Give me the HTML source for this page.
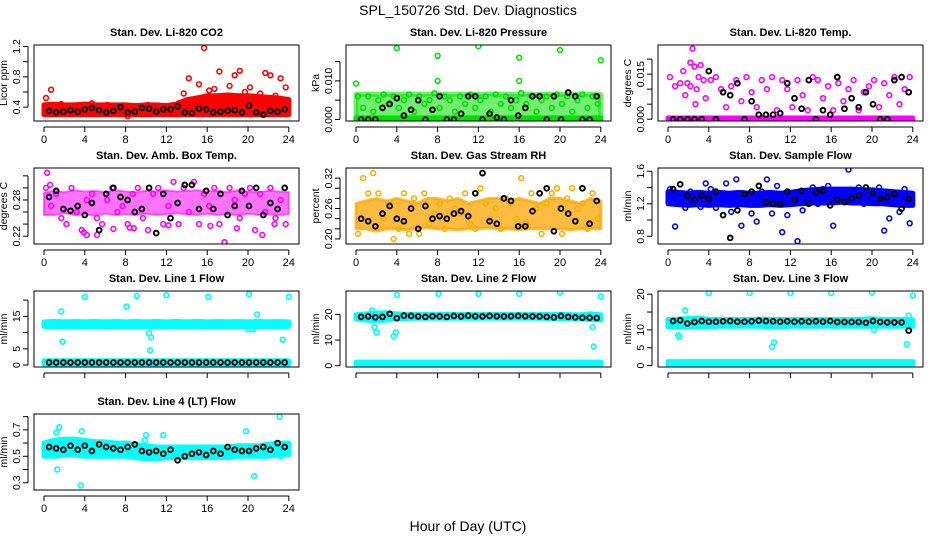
<!DOCTYPE html>
<html><head><meta charset="utf-8"><title>SPL_150726 Std. Dev. Diagnostics</title>
<style>
html,body{margin:0;padding:0;background:#fff;}
svg{display:block;font-family:"Liberation Sans",Arial,sans-serif;}
</style></head>
<body>
<svg id="chart" width="936" height="540" viewBox="0 0 936 540">
<text x="468" y="15" font-size="14" text-anchor="middle">SPL_150726  Std. Dev. Diagnostics</text>
<text x="468" y="531" font-size="14" text-anchor="middle">Hour of Day (UTC)</text>
</svg>
<script>
// ---- shared hour arrays ----
const bandHours = [0,1,2,3,4,5,6,7,8,9,10,11,12,13,14,15,16,17,18,19,20,21,22,23,24];
const hoursA = [0.2,0.7,1.2,1.7,2.2,2.7,3.2,3.7,4.2,4.7,5.2,5.7,6.2,6.7,7.2,7.7,8.2,8.7,9.2,9.7,10.2,10.7,11.2,11.7,12.2,12.7,13.2,13.7,14.2,14.7,15.2,15.7,16.2,16.7,17.2,17.7,18.2,18.7,19.2,19.7,20.2,20.7,21.2,21.7,22.2,22.7,23.2,23.7];
const hoursB = [0.5,1.2,1.9,2.6,3.3,4.0,4.7,5.4,6.1,6.8,7.5,8.2,8.9,9.6,10.3,11.0,11.7,12.4,13.1,13.8,14.5,15.2,15.9,16.6,17.3,18.0,18.7,19.4,20.1,20.8,21.5,22.2,22.9,23.6];
const xTicks = [0,4,8,12,16,20,24];
const xTickLabels = ["0","4","8","12","16","20","24"];

// ---- CO2 ----
const co2BandLo = [0.30,0.30,0.30,0.30,0.30,0.30,0.30,0.30,0.30,0.30,0.30,0.30,0.30,0.30,0.30,0.30,0.30,0.30,0.30,0.30,0.30,0.30,0.30,0.30,0.30];
const co2BandHi = [0.43,0.44,0.43,0.43,0.44,0.43,0.43,0.43,0.43,0.42,0.43,0.43,0.42,0.44,0.50,0.52,0.55,0.55,0.56,0.55,0.55,0.54,0.53,0.52,0.50];
const co2Pts = [0.52,0.63,0.38,0.44,0.40,0.36,0.42,0.39,0.37,0.45,0.41,0.38,0.43,0.36,0.40,0.42,0.28,0.39,0.41,0.37,0.43,0.40,0.38,0.41,0.36,0.40,0.45,0.58,0.78,0.48,0.70,1.18,0.62,0.64,0.87,0.55,0.68,0.82,0.88,0.60,0.66,0.50,0.58,0.85,0.82,0.55,0.78,0.66];
const co2Blk = [0.35,0.33,0.34,0.36,0.34,0.37,0.39,0.36,0.33,0.35,0.40,0.33,0.34,0.39,0.38,0.34,0.37,0.37,0.41,0.33,0.32,0.38,0.37,0.33,0.34,0.35,0.36,0.33,0.42,0.33,0.30,0.35,0.34,0.37];
const co2Ticks = [0.4,0.6,0.8,1.0,1.2];
const co2TickLabels = ["0.4","","0.8","","1.2"];

// ---- Pressure ----
const presBandLo = [0,0,0,0,0,0,0,0,0,0,0,0,0,0,0,0,0,0,0,0,0,0,0,0,0];
const presBandHi = [0.0065,0.0066,0.0065,0.0066,0.0065,0.0066,0.0065,0.0066,0.0066,0.0065,0.0066,0.0065,0.0065,0.0066,0.0065,0.0066,0.0065,0.0066,0.0065,0.0066,0.0065,0.0066,0.0065,0.0066,0.0065];
const presPts = [0.006,0.003,0.006,0.002,0.005,0.0065,0.004,0.006,0.003,0.005,0.0065,0.002,0.006,0.004,0.005,0.0068,0.003,0.006,0.005,0.002,0.006,0.004,0.0065,0.003,0.005,0.006,0.002,0.0065,0.004,0.006,0.003,0.005,0.0068,0.004,0.006,0.002,0.005,0.006,0.003,0.0065,0.004,0.006,0.002,0.005,0.0065,0.003,0.006,0.004];
const presOutH = [0,4,8,8,12,16,16,20,24];
const presOutV = [0.0093,0.0185,0.0165,0.0100,0.0190,0.0160,0.0100,0.0180,0.0153];
const presBlk = [0,0,0,0.003,0.004,0.0055,0.001,0.0025,0.005,0,0.0025,0.006,0,0,0.0015,0.006,0.006,0,0.0015,0.0005,0,0.005,0.001,0.003,0.006,0.006,0,0.006,0,0.007,0.006,0,0,0.006];
const presTicks = [0,0.005,0.010,0.015];
const presTickLabels = ["0.000","","0.010",""];

// ---- Li-820 Temp ----
const tempBandLo = [0,0,0,0,0,0,0,0,0,0,0,0,0,0,0,0,0,0,0,0,0,0,0,0,0];
const tempBandHi = [0.0004,0.0004,0.0004,0.0004,0.0004,0.0004,0.0004,0.0004,0.0004,0.0004,0.0004,0.0004,0.0004,0.0004,0.0004,0.0004,0.0004,0.0004,0.0004,0.0004,0.0004,0.0004,0.0004,0.0004,0.0004];
const tempPts = [0.014,0.011,0.012,0.008,0.011,0.005,0.018,0.007,0.013,0.014,0.010,0.004,0.011,0.013,0.006,0.014,0.009,0.004,0.013,0.010,0.014,0.003,0.013,0.010,0.004,0.013,0.008,0.003,0.014,0.013,0.007,0.011,0.003,0.012,0.006,0.010,0.013,0.003,0.009,0.011,0.013,0.004,0.012,0.008,0.014,0.005,0.010,0.014];
const tempOutH = [2.4,2.2,2.6,1.5,1.9,3.0,3.5,2.8];
const tempOutV = [0.0235,0.0188,0.0175,0.0160,0.0120,0.0140,0.0130,0.0100];
const tempBlk = [0,0,0,0,0,0.016,0,0.009,0.008,0.012,0,0.006,0.0015,0.0015,0.0015,0.002,0.012,0.007,0.0035,0.013,0,0.003,0.0015,0.014,0.0035,0.007,0.004,0.009,0.005,0,0,0.013,0.014,0.009];
const tempTicks = [0,0.005,0.010,0.015,0.020];
const tempTickLabels = ["0.000","","","0.015",""];

// ---- Amb Box Temp ----
const ambBandLo = [0.255,0.255,0.258,0.255,0.256,0.254,0.257,0.255,0.256,0.255,0.257,0.255,0.256,0.258,0.256,0.255,0.257,0.255,0.256,0.255,0.257,0.255,0.256,0.255,0.256];
const ambBandHi = [0.292,0.295,0.293,0.296,0.294,0.295,0.293,0.296,0.294,0.293,0.295,0.294,0.296,0.294,0.295,0.296,0.294,0.295,0.293,0.296,0.294,0.293,0.295,0.294,0.293];
const ambPts = [0.30,0.27,0.29,0.25,0.24,0.30,0.26,0.23,0.28,0.29,0.25,0.24,0.28,0.30,0.26,0.27,0.24,0.29,0.30,0.25,0.23,0.29,0.30,0.24,0.27,0.31,0.24,0.30,0.26,0.31,0.24,0.29,0.27,0.30,0.24,0.21,0.30,0.28,0.25,0.29,0.30,0.23,0.29,0.26,0.30,0.25,0.28,0.24];
const ambOutH = [0.3,0.6,3.9,4.2,5.2,6.8,8.4,8.8,12.2,16.3,18.9,21.4,22.6];
const ambOutV = [0.325,0.305,0.226,0.222,0.222,0.232,0.234,0.233,0.238,0.237,0.233,0.222,0.24];
const ambBlk = [0.285,0.295,0.265,0.262,0.27,0.255,0.275,0.23,0.29,0.30,0.285,0.28,0.26,0.265,0.30,0.225,0.29,0.25,0.275,0.305,0.305,0.265,0.295,0.265,0.29,0.255,0.27,0.295,0.27,0.30,0.255,0.275,0.265,0.30];
const ambTicks = [0.22,0.24,0.26,0.28,0.30,0.32];
const ambTickLabels = ["0.22","","","0.28","",""];

// ---- Gas Stream RH ----
const rhBandLo = [0.22,0.22,0.215,0.22,0.22,0.218,0.22,0.222,0.22,0.22,0.218,0.22,0.22,0.222,0.22,0.22,0.218,0.22,0.22,0.22,0.22,0.218,0.22,0.22,0.22];
const rhBandHi = [0.27,0.275,0.28,0.275,0.28,0.275,0.27,0.28,0.28,0.275,0.28,0.27,0.275,0.28,0.28,0.275,0.28,0.275,0.27,0.28,0.28,0.275,0.27,0.28,0.275];
const rhPts = [0.21,0.32,0.29,0.33,0.29,0.24,0.27,0.20,0.22,0.29,0.21,0.28,0.21,0.29,0.23,0.25,0.27,0.22,0.28,0.26,0.25,0.29,0.23,0.22,0.30,0.27,0.24,0.26,0.22,0.28,0.27,0.24,0.32,0.23,0.29,0.26,0.21,0.27,0.29,0.30,0.21,0.28,0.30,0.26,0.27,0.22,0.29,0.24];
const rhBlk = [0.24,0.235,0.225,0.25,0.265,0.24,0.235,0.26,0.22,0.265,0.24,0.245,0.24,0.25,0.255,0.245,0.29,0.33,0.235,0.23,0.28,0.275,0.225,0.225,0.255,0.29,0.30,0.215,0.26,0.25,0.235,0.30,0.23,0.275];
const rhTicks = [0.20,0.22,0.24,0.26,0.28,0.30,0.32];
const rhTickLabels = ["0.20","","","0.26","","","0.32"];

// ---- Sample Flow ----
const sfBandLo = [1.20,1.19,1.18,1.19,1.18,1.19,1.18,1.19,1.18,1.18,1.19,1.18,1.19,1.20,1.21,1.21,1.21,1.22,1.21,1.21,1.20,1.20,1.19,1.18,1.18];
const sfBandHi = [1.35,1.34,1.33,1.34,1.33,1.34,1.33,1.34,1.33,1.33,1.34,1.33,1.34,1.36,1.37,1.38,1.38,1.38,1.38,1.37,1.37,1.36,1.35,1.34,1.33];
const sfPts = [1.38,0.92,1.22,1.15,1.35,1.2,1.16,1.45,1.38,1.15,1.30,1.45,1.10,1.50,0.93,1.32,1.08,0.98,1.35,1.50,1.08,1.42,0.85,1.06,1.28,0.74,1.12,1.30,1.40,1.20,1.38,1.42,0.93,1.30,1.25,1.62,1.22,1.40,1.20,1.36,1.25,1.40,0.87,1.02,1.30,1.10,1.38,0.96];
const sfBlk = [1.38,1.44,1.3,1.25,1.3,1.26,1.35,1.06,0.78,1.12,1.32,1.35,1.42,1.22,1.20,1.20,1.35,1.25,1.36,1.20,1.34,1.36,1.18,1.25,1.22,1.27,1.30,1.40,1.33,1.26,1.28,1.32,1.14,1.26];
const sfTicks = [0.8,1.0,1.2,1.4,1.6];
const sfTickLabels = ["0.8","","1.2","","1.6"];

// ---- Line 1 Flow ----
const l1BandLo = [11.9,11.8,11.9,11.8,11.9,11.8,11.9,11.8,11.9,11.8,11.9,11.8,11.9,11.8,11.9,11.8,11.9,11.8,11.9,11.8,11.9,11.8,11.9,11.8,11.9];
const l1BandHi = [13.3,13.4,13.3,13.4,13.3,13.4,13.3,13.4,13.3,13.4,13.3,13.4,13.3,13.4,13.3,13.4,13.3,13.4,13.3,13.4,13.3,13.4,13.3,13.4,13.3];
const l1ZeroLo = [0.3,0.3,0.3,0.3,0.3,0.3,0.3,0.3,0.3,0.3,0.3,0.3,0.3,0.3,0.3,0.3,0.3,0.3,0.3,0.3,0.3,0.3,0.3,0.3,0.3];
const l1ZeroHi = [1.3,1.3,1.3,1.3,1.3,1.3,1.3,1.3,1.3,1.3,1.3,1.3,1.3,1.3,1.3,1.3,1.3,1.3,1.3,1.3,1.3,1.3,1.3,1.3,1.3];
const l1OutH = [1.7,1.8,4.0,8.1,9.1,10.3,10.4,10.5,12.0,16.1,20.1,20.0,20.5,20.9,23.4,24.0];
const l1OutV = [16.5,7.2,21.0,18.0,21.3,9.8,4.5,8.5,21.5,21.0,21.8,11.0,11.0,15.6,7.8,21.0];
const l1Blk = [0.8,0.8,0.8,0.8,0.8,0.8,0.8,0.8,0.8,0.8,0.8,0.8,0.8,0.8,0.8,0.8,0.8,0.8,0.8,0.8,0.8,0.8,0.8,0.8,0.8,0.8,0.8,0.8,0.8,0.8,0.8,0.8,0.8,0.8];
const l1Ticks = [0,5,10,15,20];
const l1TickLabels = ["0","5","","15",""];

// ---- Line 2 Flow ----
const l2BandLo = [18.2,17.8,17.5,17.8,18.3,18.4,18.5,18.5,18.5,18.5,18.5,18.5,18.5,18.5,18.5,18.5,18.5,18.5,18.5,18.4,18.4,18.3,18.2,18.0,17.8];
const l2BandHi = [19.8,20.2,20.5,20.6,20.2,20.0,20.0,20.0,20.0,20.0,20.0,20.0,20.0,20.0,20.0,20.0,20.0,20.0,20.0,20.0,20.0,19.9,19.8,20.2,19.8];
const l2ZeroLo = [0,0,0,0,0,0,0,0,0,0,0,0,0,0,0,0,0,0,0,0,0,0,0,0,0];
const l2ZeroHi = [1.4,1.4,1.4,1.4,1.4,1.4,1.4,1.4,1.4,1.4,1.4,1.4,1.4,1.4,1.4,1.4,1.4,1.4,1.4,1.4,1.4,1.4,1.4,1.4,1.4];
const l2OutH = [1.8,2.0,1.6,3.7,3.9,4.0,8.1,12.0,16.0,20.0,23.2,23.3,24.0];
const l2OutV = [15.0,13.0,21.5,11.5,13.0,27.5,28.0,28.0,28.0,28.5,15.0,7.5,27.0];
const l2Blk = [19.0,19.2,18.8,19.0,20.2,18.5,19.5,19.4,19.2,19.0,19.3,19.2,19.0,19.4,19.2,19.5,19.3,19.2,19.4,19.3,19.2,19.3,19.4,19.3,19.2,19.2,19.0,18.8,19.4,19.0,18.8,18.7,18.7,18.6];
const l2Ticks = [0,10,20];
const l2TickLabels = ["0","10","20"];

// ---- Line 3 Flow ----
const l3BandLo = [10.8,10.8,10.8,10.9,10.9,11.0,11.0,11.0,11.0,11.0,10.8,10.9,11.0,11.0,11.0,11.0,11.0,11.0,11.0,11.0,11.0,11.0,11.0,11.0,11.0];
const l3BandHi = [12.9,13.0,13.2,13.3,13.0,12.9,12.9,12.9,12.9,13.0,13.0,12.9,12.9,12.9,12.9,12.9,12.9,12.9,12.9,13.0,13.1,12.9,12.9,12.9,12.8];
const l3ZeroLo = [0.2,0.2,0.2,0.2,0.2,0.2,0.2,0.2,0.2,0.2,0.2,0.2,0.2,0.2,0.2,0.2,0.2,0.2,0.2,0.2,0.2,0.2,0.2,0.2,0.2];
const l3ZeroHi = [1.1,1.1,1.1,1.1,1.1,1.1,1.1,1.1,1.1,1.1,1.1,1.1,1.1,1.1,1.1,1.1,1.1,1.1,1.1,1.1,1.1,1.1,1.1,1.1,1.1];
const l3OutH = [1.0,1.1,1.7,4.0,8.0,10.2,10.4,12.0,16.0,20.0,20.2,23.4,23.6,24.0];
const l3OutV = [8.5,8.0,15.5,20.3,20.3,5.2,6.5,20.3,20.3,20.5,10.0,6.0,14.0,19.6];
const l3Blk = [12.5,12.7,11.8,12.2,12.5,12.3,12.3,12.4,12.5,12.3,12.3,12.4,12.6,12.5,12.4,12.3,12.4,12.3,12.4,12.3,12.4,12.3,12.5,12.2,12.2,12.2,12.2,12.0,12.5,12.2,12.1,12.1,12.1,9.8];
const l3Ticks = [0,5,10,15,20];
const l3TickLabels = ["0","5","10","","20"];

// ---- Line 4 Flow ----
const l4BandLo = [0.50,0.50,0.51,0.51,0.50,0.50,0.50,0.50,0.50,0.49,0.48,0.48,0.49,0.49,0.49,0.49,0.49,0.49,0.49,0.50,0.50,0.50,0.50,0.51,0.51];
const l4BandHi = [0.60,0.62,0.63,0.63,0.62,0.61,0.61,0.60,0.60,0.59,0.58,0.57,0.57,0.57,0.57,0.57,0.57,0.57,0.57,0.58,0.58,0.58,0.59,0.60,0.60];
const l4OutH = [1.2,1.3,1.5,3.6,3.7,10.0,11.7,19.8,20.6,23.1,23.2,9.9];
const l4OutV = [0.68,0.40,0.72,0.28,0.69,0.66,0.66,0.69,0.35,0.80,0.50,0.62];
const l4Blk = [0.57,0.56,0.55,0.58,0.55,0.58,0.54,0.59,0.57,0.56,0.55,0.57,0.59,0.54,0.53,0.54,0.52,0.55,0.47,0.50,0.52,0.53,0.51,0.54,0.52,0.57,0.55,0.54,0.54,0.56,0.57,0.55,0.60,0.57];
const l4Ticks = [0.3,0.4,0.5,0.6,0.7,0.8];
const l4TickLabels = ["0.3","","0.5","","0.7",""];

const NS = "http://www.w3.org/2000/svg";
const svg = document.getElementById("chart");
function mk(tag, attrs, parent){
  const e = document.createElementNS(NS, tag);
  for (const k in attrs) e.setAttribute(k, attrs[k]);
  (parent||svg).appendChild(e);
  return e;
}
const colLeft = [34, 346, 658];
const rowTop = [45, 168, 291, 414];
const boxW = 265, boxH = 76;

function panel(p){
  const L = colLeft[p.col], T = rowTop[p.row], B = T + boxH;
  const x = h => L + 10 + h * 10.2;
  const y = v => B - (v - p.ymin) / (p.ymax - p.ymin) * boxH;
  const g = mk("g", {});
  
  
  const t = mk("text", {x: L + boxW/2, y: T - 9, "font-size": 11, "font-weight": "bold", "text-anchor": "middle"}, g);
  t.textContent = p.title;
  
  
  const pg = mk("g", {"clip-path": "url(#clip" + p.name + ")"}, g);
  const cp = mk("clipPath", {id: "clip" + p.name}, g);
  mk("rect", {x: L, y: T, width: boxW, height: boxH}, cp);
  function band(lo, hi, nm, op, sw){
    let d = "";
    bandHours.forEach((h,i)=>{ d += (i?"L":"M") + x(h).toFixed(1) + "," + y(hi[i]).toFixed(1); });
    for (let i = bandHours.length-1; i >= 0; i--) d += "L" + x(bandHours[i]).toFixed(1) + "," + y(lo[i]).toFixed(1);
    const b = mk("path", {d: d + "Z", fill: p.color, "fill-opacity": op, stroke: p.color, "stroke-opacity": op, "stroke-width": sw, "stroke-linejoin": "round"}, pg);
    
    
  }
  if (p.zeroLo) band(p.zeroLo, p.zeroHi, p.name + '-zero-band', 1, 5);
  if (p.bandLo) band(p.bandLo, p.bandHi, p.name + '-band', p.bandOpacity || 1, p.bandStroke || 5);
  function pts(hs, vs, color, nm, sw){
    vs.forEach((v,i)=>{
      const c = mk("circle", {cx: x(hs[i]).toFixed(1), cy: y(v).toFixed(1), r: 2.4, fill: "none", stroke: color, "stroke-width": sw}, pg);
      
      
    });
  }
  if (p.pts) pts(hoursA, p.pts, p.ptColor || p.color, p.name + '-point', 1.6);
  if (p.outH) pts(p.outH, p.outV, p.ptColor || p.color, p.name + '-outlier', 1.6);
  pts(hoursB, p.blk, "#000", p.name + '-black-point', 1.9);
  const box = mk("rect", {x: L, y: T, width: boxW, height: boxH, fill: "none", stroke: "#000", "stroke-width": 1}, g);
  
  
  mk("line", {x1: x(xTicks[0]), x2: x(xTicks[xTicks.length-1]), y1: B + 6, y2: B + 6, stroke: "#000"}, g);
  xTicks.forEach((h,i)=>{
    mk("line", {x1: x(h), x2: x(h), y1: B + 6, y2: B + 11, stroke: "#000"}, g);
    if (p.xlabels){
      const tl = mk("text", {x: x(h), y: B + 22, "font-size": 11, "text-anchor": "middle"}, g);
      tl.textContent = xTickLabels[i];
      
      
    }
  });
  mk("line", {x1: L - 6, x2: L - 6, y1: y(p.ticks[0]), y2: y(p.ticks[p.ticks.length-1]), stroke: "#000"}, g);
  p.ticks.forEach((v,i)=>{
    mk("line", {x1: L - 11, x2: L - 6, y1: y(v), y2: y(v), stroke: "#000"}, g);
    if (p.tickLabels[i]){
      const tl = mk("text", {x: 0, y: 0, "font-size": 10.5, "text-anchor": "middle", transform: "translate(" + (L - 14) + "," + y(v) + ") rotate(-90)"}, g);
      tl.textContent = p.tickLabels[i];
      
      
    }
  });
  const yl = mk("text", {x: 0, y: 0, "font-size": 10.5, "text-anchor": "middle", transform: "translate(" + (L - 27) + "," + (T + boxH/2) + ") rotate(-90)"}, g);
  yl.textContent = p.ylab;
  
  
}

const RED = "#ff0000", GREEN = "#00e000", MAG = "#ff00ff", BLUE = "#0000ff", CYAN = "#00ffff", ORANGE = "#ffa500";
panel({name:"co2", col:0,row:0,title:"Stan. Dev. Li-820 CO2",ylab:"Licor ppm",ymin:0.217,ymax:1.22,ticks:co2Ticks,tickLabels:co2TickLabels,color:RED,bandLo:co2BandLo,bandHi:co2BandHi,pts:co2Pts,blk:co2Blk,xlabels:true});
panel({name:"pressure", col:1,row:0,title:"Stan. Dev. Li-820 Pressure",ylab:"kPa",ymin:-0.0004,ymax:0.0193,ticks:presTicks,tickLabels:presTickLabels,color:GREEN,bandOpacity:0.55,bandLo:presBandLo,bandHi:presBandHi,pts:presPts,outH:presOutH,outV:presOutV,blk:presBlk,xlabels:true,zeroLo:presBandLo,zeroHi:tempBandHi});
panel({name:"li820-temp", col:2,row:0,title:"Stan. Dev. Li-820 Temp.",ylab:"degrees C",ymin:-0.0006,ymax:0.0247,ticks:tempTicks,tickLabels:tempTickLabels,color:MAG,bandLo:tempBandLo,bandHi:tempBandHi,pts:tempPts,outH:tempOutH,outV:tempOutV,blk:tempBlk,xlabels:true});
panel({name:"amb-box-temp", col:0,row:1,title:"Stan. Dev. Amb. Box Temp.",ylab:"degrees C",ymin:0.207,ymax:0.333,ticks:ambTicks,tickLabels:ambTickLabels,color:MAG,bandOpacity:0.55,bandStroke:2,bandLo:ambBandLo,bandHi:ambBandHi,pts:ambPts,outH:ambOutH,outV:ambOutV,blk:ambBlk,xlabels:true});
panel({name:"gas-rh", col:1,row:1,title:"Stan. Dev. Gas Stream RH",ylab:"percent",ymin:0.19,ymax:0.34,ticks:rhTicks,tickLabels:rhTickLabels,color:ORANGE,ptColor:"#f7b000",bandOpacity:0.75,bandStroke:3,bandLo:rhBandLo,bandHi:rhBandHi,pts:rhPts,blk:rhBlk,xlabels:true});
panel({name:"sample-flow", col:2,row:1,title:"Stan. Dev. Sample Flow",ylab:"ml/min",ymin:0.705,ymax:1.64,ticks:sfTicks,tickLabels:sfTickLabels,color:BLUE,bandLo:sfBandLo,bandHi:sfBandHi,pts:sfPts,blk:sfBlk,xlabels:true});
panel({name:"line1-flow", col:0,row:2,title:"Stan. Dev. Line 1 Flow",ylab:"ml/min",ymin:-0.6,ymax:22.8,ticks:l1Ticks,tickLabels:l1TickLabels,color:CYAN,bandLo:l1BandLo,bandHi:l1BandHi,zeroLo:l1ZeroLo,zeroHi:l1ZeroHi,outH:l1OutH,outV:l1OutV,blk:l1Blk,xlabels:false});
panel({name:"line2-flow", col:1,row:2,title:"Stan. Dev. Line 2 Flow",ylab:"ml/min",ymin:-0.5,ymax:29.1,ticks:l2Ticks,tickLabels:l2TickLabels,color:CYAN,bandLo:l2BandLo,bandHi:l2BandHi,zeroLo:l2ZeroLo,zeroHi:l2ZeroHi,outH:l2OutH,outV:l2OutV,blk:l2Blk,xlabels:false});
panel({name:"line3-flow", col:2,row:2,title:"Stan. Dev. Line 3 Flow",ylab:"ml/min",ymin:-0.4,ymax:20.9,ticks:l3Ticks,tickLabels:l3TickLabels,color:CYAN,bandLo:l3BandLo,bandHi:l3BandHi,zeroLo:l3ZeroLo,zeroHi:l3ZeroHi,outH:l3OutH,outV:l3OutV,blk:l3Blk,xlabels:false});
panel({name:"line4-flow", col:0,row:3,title:"Stan. Dev. Line 4 (LT) Flow",ylab:"ml/min",ymin:0.245,ymax:0.82,ticks:l4Ticks,tickLabels:l4TickLabels,color:CYAN,bandLo:l4BandLo,bandHi:l4BandHi,outH:l4OutH,outV:l4OutV,blk:l4Blk,xlabels:true});
</script>
</body></html>
